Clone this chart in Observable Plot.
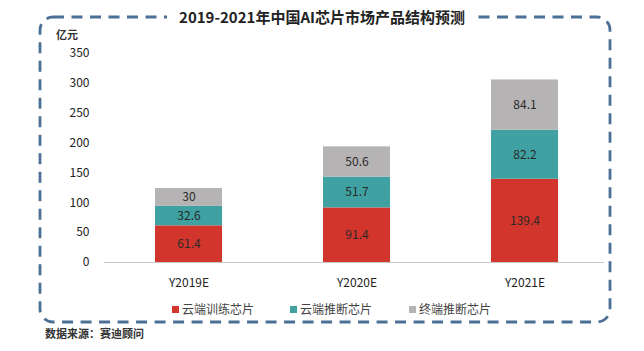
<!DOCTYPE html>
<html><head><meta charset="utf-8">
<script src="https://cdn.jsdelivr.net/npm/d3@7"></script>
<script src="https://cdn.jsdelivr.net/npm/@observablehq/plot@0.6"></script>
<style>
html,body{margin:0;padding:0;background:#fff;}
body{font-family:"Noto Sans CJK SC","Open Sans",sans-serif;}
#wrap{position:relative;width:644px;height:351px;overflow:hidden;background:#fff;}
#frame{position:absolute;left:0;top:0;}
#chart{position:absolute;left:0;top:0;}
#title{position:absolute;top:6px;left:0;width:644px;text-align:center;font-size:15px;font-weight:bold;color:#222;line-height:22px;}
#title span{background:#fff;padding:0 12px;}
#unit{position:absolute;left:56px;top:26px;font-size:11px;font-weight:bold;color:#333;}
#legend{position:absolute;top:300px;left:0;width:644px;font-size:12px;color:#444;line-height:18px;}
#legend .it{position:absolute;display:flex;align-items:center;white-space:nowrap;}
#legend .sw{width:7px;height:7px;margin-right:3px;display:inline-block;}
#source{position:absolute;left:45px;top:325px;font-size:11px;font-weight:bold;color:#333;}
</style>
</head><body>
<div id="wrap">
  <svg id="frame" width="644" height="351"></svg>
  <div id="chart"></div>
  <div id="title"><span>2019-2021年中国AI芯片市场产品结构预测</span></div>
  <div id="unit">亿元</div>
  <div id="legend"></div>
  <div id="source">数据来源：赛迪顾问</div>
</div>
<script>
const years = ["Y2019E", "Y2020E", "Y2021E"];
const seriesNames = ["云端训练芯片", "云端推断芯片", "终端推断芯片"];
const cloudTraining = [61.4, 91.4, 139.4];
const cloudInference = [32.6, 51.7, 82.2];
const edgeInference = [30, 50.6, 84.1];
const yTicks = [0, 50, 100, 150, 200, 250, 300, 350];
const colors = ["#d2352b", "#3fa1a2", "#b5b3b3"];

const seriesValues = [cloudTraining, cloudInference, edgeInference];
const data = [];
seriesNames.forEach((s, si) => years.forEach((y, yi) => data.push({year: y, series: s, value: seriesValues[si][yi]})));

// dashed rounded frame (decoration)
const frame = d3.select("#frame");
frame.append("rect").attr("x", 40).attr("y", 17).attr("width", 570).attr("height", 305)
  .attr("rx", 13).attr("fill", "none").attr("stroke", "#4b6f95").attr("stroke-width", 2.8)
  .attr("stroke-dasharray", "11 7.5");

const chart = Plot.plot({
  width: 644,
  height: 351,
  marginLeft: 104,
  marginRight: 34,
  marginTop: 53,
  marginBottom: 89,
  style: {background: "transparent", fontFamily: "'Noto Sans CJK SC','Open Sans',sans-serif", fontSize: "12px", color: "#222"},
  x: {domain: years, paddingInner: 0.6, paddingOuter: 0.3, label: null},
  y: {domain: [0, 350], label: null},
  color: {domain: seriesNames, range: colors},
  marks: [
    Plot.ruleY([0], {stroke: "#c8c8c8", strokeWidth: 1, insetRight: 6}),
    Plot.barY(data, Plot.stackY({x: "year", y: "value", fill: "series", order: seriesNames})),
    Plot.text(data, Plot.stackY({x: "year", y: "value", z: "series", order: seriesNames, text: d => String(d.value), fill: "#2a2a2a", fontSize: 12})),
    Plot.axisY({ticks: yTicks, tickSize: 0, tickPadding: 15, fontSize: 12, label: null}),
    Plot.axisX({tickSize: 0, tickPadding: 16, fontSize: 12, label: null})
  ]
});
document.getElementById("chart").appendChild(chart);

// legend
const legendX = [172, 290, 409];
const legend = d3.select("#legend");
seriesNames.forEach((s, i) => {
  const it = legend.append("div").attr("class", "it").style("left", legendX[i] + "px");
  it.append("span").attr("class", "sw").style("background", colors[i]);
  it.append("span").text(s);
});
</script>
</body></html>
